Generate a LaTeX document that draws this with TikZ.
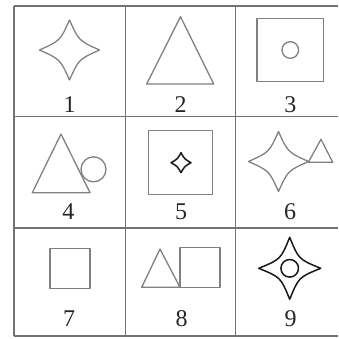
\documentclass[tikz,border=0pt]{standalone}
\usepackage{fontspec}
\setmainfont{Liberation Serif}
\newcommand{\fstar}[4]{% cx, cy, R, k
  (#1,#2-#3) .. controls (#1+#4*#3,#2-#4*#3) .. (#1+#3,#2)
  .. controls (#1+#4*#3,#2+#4*#3) .. (#1,#2+#3)
  .. controls (#1-#4*#3,#2+#4*#3) .. (#1-#3,#2)
  .. controls (#1-#4*#3,#2-#4*#3) .. (#1,#2-#3) -- cycle}
\begin{document}
\begin{tikzpicture}[x=1pt,y=-1pt,
  gridline/.style={draw=black!55,line width=1.4pt},
  figline/.style={draw=black!50,line width=1.3pt,line join=round},
  darkfig/.style={draw=black!90,line width=1.5pt,line join=round},
  num/.style={inner sep=0pt,font=\fontsize{24}{26}\selectfont,text=black!85}]
\useasboundingbox (0,0) rectangle (338,339);
% grid
\foreach \yy in {6,116.7,228,336} \draw[gridline] (14,\yy) -- (338,\yy);
\foreach \xx in {14,125.7,235.7} \draw[gridline] (\xx,6) -- (\xx,336);
% cell 1
\draw[figline] \fstar{69.5}{50}{30}{0.31};
\node[num] (n1) at (69.5,104.7) {1};
% cell 2
\draw[figline] (146.7,84) -- (213.7,84) -- (180.5,16.7) -- cycle;
\node[num] (n2) at (180.7,104.7) {2};
% cell 3
\draw[figline] (257,18.3) rectangle (323.5,81.7);
\draw[figline] (290.3,50) circle (8.3);
\node[num] (n3) at (290.3,104.7) {3};
% cell 4
\draw[figline] (32.3,192.7) -- (90,192.7) -- (61,134) -- cycle;
\draw[figline] (93.5,169.3) circle (12.5);
\node[num] (n4) at (68.3,211.7) {4};
% cell 5
\draw[figline] (148.3,130.7) rectangle (212.3,194.3);
\draw[darkfig] \fstar{181}{162.7}{10}{0.36};
\node[num] (n5) at (181,211.7) {5};
% cell 6
\draw[figline] \fstar{278.5}{161.5}{30}{0.31};
\draw[figline] (308.3,162.3) -- (332.7,162.3) -- (321,139.3) -- cycle;
\node[num] (n6) at (290,211.7) {6};
% cell 7
\draw[figline] (50,248.7) rectangle (90,288.7);
\node[num] (n7) at (69,318.5) {7};
% cell 8
\draw[figline] (141.7,287.3) -- (180,287.3) -- (160,249) -- cycle;
\draw[figline] (180,247.3) rectangle (220,287.3);
\node[num] (n8) at (181.7,318.5) {8};
% cell 9
\draw[darkfig] \fstar{289.7}{268.3}{31}{0.29};
\draw[darkfig] (289.7,268.3) circle (8.8);
\node[num] (n9) at (290.7,318.5) {9};
\end{tikzpicture}
\end{document}
